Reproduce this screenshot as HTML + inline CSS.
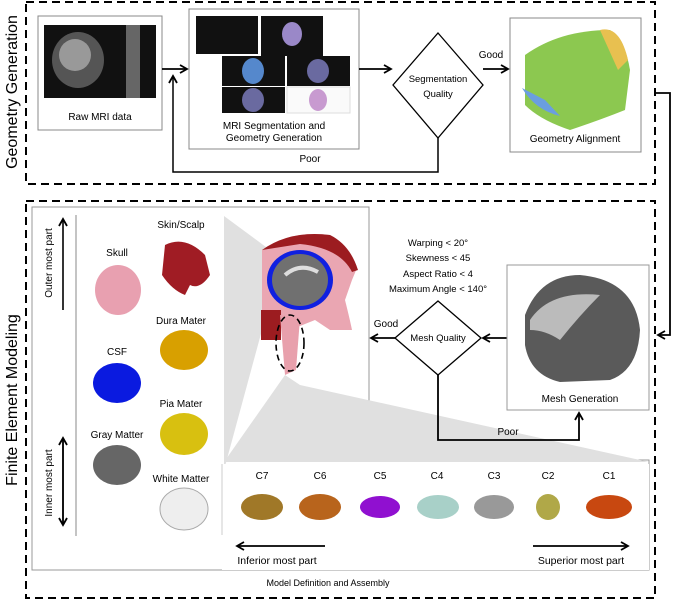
<!DOCTYPE html>
<html><head><style>
html,body{margin:0;padding:0;background:#fff;}
svg{display:block;font-family:"Liberation Sans",sans-serif;}
</style></head><body>
<svg width="677" height="602" viewBox="0 0 677 602" xmlns="http://www.w3.org/2000/svg">
<defs>
<marker id="ah" markerWidth="10" markerHeight="10" refX="8" refY="5" orient="auto" markerUnits="userSpaceOnUse">
<path d="M1,1 L8,5 L1,9" fill="none" stroke="#000" stroke-width="1.8"/></marker>
</defs>
<rect x="26" y="2" width="629" height="182" fill="none" stroke="#000" stroke-width="2" stroke-dasharray="8,5"/>
<rect x="26" y="201" width="629" height="397" fill="none" stroke="#000" stroke-width="2" stroke-dasharray="8,5"/>
<text transform="translate(17,92) rotate(-90)" font-size="16" text-anchor="middle">Geometry Generation</text>
<text transform="translate(17,400) rotate(-90)" font-size="16" text-anchor="middle">Finite Element Modeling</text>

<rect x="38" y="16" width="124" height="114" fill="#fff" stroke="#888"/>
<rect x="44" y="25" width="112" height="73" fill="#111"/>
<ellipse cx="78" cy="60" rx="26" ry="28" fill="#555"/>
<ellipse cx="75" cy="55" rx="16" ry="16" fill="#999"/>
<rect x="126" y="25" width="14" height="73" fill="#666"/>
<text x="100" y="120" font-size="10" text-anchor="middle">Raw MRI data</text>

<rect x="189" y="9" width="170" height="140" fill="#fff" stroke="#888"/>
<rect x="196" y="16" width="62" height="38" fill="#111"/>
<rect x="261" y="16" width="62" height="40" fill="#111"/>
<rect x="222" y="56" width="63" height="30" fill="#111"/>
<rect x="287" y="56" width="63" height="30" fill="#111"/>
<rect x="222" y="87" width="63" height="26" fill="#111"/>
<rect x="287" y="87" width="63" height="26" fill="#fafafa" stroke="#ddd"/>
<ellipse cx="253" cy="71" rx="11" ry="13" fill="#5588cc"/>
<ellipse cx="318" cy="71" rx="11" ry="12" fill="#6a6aa0"/>
<ellipse cx="253" cy="100" rx="11" ry="12" fill="#6a6aa0"/>
<ellipse cx="292" cy="34" rx="10" ry="12" fill="#9a88c8"/>
<ellipse cx="318" cy="100" rx="9" ry="11" fill="#c89ad0"/>
<text x="274" y="129" font-size="10" text-anchor="middle">MRI Segmentation and</text>
<text x="274" y="141" font-size="10" text-anchor="middle">Geometry Generation</text>

<polygon points="438,33 483,85 438,138 393,85" fill="#fff" stroke="#000" stroke-width="1.3"/>
<text x="438" y="82" font-size="9.5" text-anchor="middle">Segmentation</text>
<text x="438" y="97" font-size="9.5" text-anchor="middle">Quality</text>

<rect x="510" y="18" width="131" height="134" fill="#fff" stroke="#888"/>
<path d="M525,55 Q560,30 610,30 Q625,40 630,70 L625,110 Q600,120 570,130 Q540,120 525,105 Z" fill="#8cc850"/>
<path d="M600,30 Q620,25 628,60 L618,70 Z" fill="#e8c050"/>
<path d="M522,88 Q535,110 560,116 L545,100 Z" fill="#6a9ee0"/>
<text x="575" y="142" font-size="10" text-anchor="middle">Geometry Alignment</text>

<line x1="162" y1="69" x2="187" y2="69" stroke="#000" stroke-width="1.8" marker-end="url(#ah)"/>
<line x1="359" y1="69" x2="391" y2="69" stroke="#000" stroke-width="1.8" marker-end="url(#ah)"/>
<line x1="483" y1="69" x2="508" y2="69" stroke="#000" stroke-width="1.8" marker-end="url(#ah)"/>
<text x="491" y="58" font-size="10" text-anchor="middle">Good</text>
<polyline points="438,138 438,172 173,172 173,76" fill="none" stroke="#000" stroke-width="1.5" marker-end="url(#ah)"/>
<text x="310" y="162" font-size="10" text-anchor="middle">Poor</text>
<polyline points="655,93 670,93 670,335 658,335" fill="none" stroke="#000" stroke-width="1.8" marker-end="url(#ah)"/>

<polygon points="32,207 369,207 369,460 649,460 649,570 32,570" fill="#fff" stroke="#999"/>
<polygon points="224,216 270,250 262,330 224,470" fill="#e0e0e0"/>
<polygon points="285,375 300,385 649,462 224,462" fill="#e0e0e0"/>
<rect x="222" y="464" width="427" height="106" fill="#fff"/>
<line x1="222" y1="464" x2="222" y2="535" stroke="#ccc"/>
<line x1="76" y1="215" x2="76" y2="536" stroke="#888"/>
<line x1="63" y1="310" x2="63" y2="219" stroke="#000" stroke-width="1.6" marker-end="url(#ah)"/>
<line x1="63" y1="438" x2="63" y2="525" stroke="#000" stroke-width="1.6" marker-end="url(#ah)"/>
<line x1="63" y1="525" x2="63" y2="438" stroke="#000" stroke-width="1.6" marker-end="url(#ah)"/>
<text transform="translate(52,263) rotate(-90)" font-size="10" text-anchor="middle">Outer most part</text>
<text transform="translate(52,483) rotate(-90)" font-size="10" text-anchor="middle">Inner most part</text>

<text x="181" y="228" font-size="10" text-anchor="middle">Skin/Scalp</text>
<path d="M165,245 Q185,235 205,255 L210,275 Q200,290 190,285 L185,295 Q172,290 162,275 Z" fill="#a01c24"/>
<text x="117" y="256" font-size="10" text-anchor="middle">Skull</text>
<ellipse cx="118" cy="290" rx="23" ry="25" fill="#e8a0b0"/>
<text x="181" y="324" font-size="10" text-anchor="middle">Dura Mater</text>
<ellipse cx="184" cy="350" rx="24" ry="20" fill="#d8a000"/>
<text x="117" y="355" font-size="10" text-anchor="middle">CSF</text>
<ellipse cx="117" cy="383" rx="24" ry="20" fill="#0a1ae0"/>
<text x="181" y="407" font-size="10" text-anchor="middle">Pia Mater</text>
<ellipse cx="184" cy="434" rx="24" ry="21" fill="#d8c010"/>
<text x="117" y="438" font-size="10" text-anchor="middle">Gray Matter</text>
<ellipse cx="117" cy="465" rx="24" ry="20" fill="#666"/>
<text x="181" y="482" font-size="10" text-anchor="middle">White Matter</text>
<ellipse cx="184" cy="509" rx="24" ry="21" fill="#eee" stroke="#aaa"/>

<path d="M262,250 Q290,230 330,235 Q350,245 357,268 L352,280 L345,300 Q350,320 352,330 L330,330 L315,320 L290,330 L275,325 L262,310 Z" fill="#eaa6b2"/>
<path d="M262,250 Q290,230 330,235 Q350,245 358,270 L352,272 Q340,248 300,244 Z" fill="#9c1c20"/>
<ellipse cx="300" cy="280" rx="33" ry="30" fill="#1020e0"/>
<ellipse cx="300" cy="280" rx="28" ry="26" fill="#707070"/>
<path d="M285,275 Q300,262 318,272" fill="none" stroke="#ddd" stroke-width="4"/>
<rect x="261" y="310" width="20" height="30" fill="#9c1c20"/>
<path d="M280,315 L300,318 L296,370 L285,375 Z" fill="#e8a0ac"/>
<ellipse cx="290" cy="343" rx="14" ry="28" fill="none" stroke="#000" stroke-width="1.6" stroke-dasharray="6,4"/>

<text x="438" y="246" font-size="9.5" text-anchor="middle">Warping &lt; 20°</text>
<text x="438" y="261" font-size="9.5" text-anchor="middle">Skewness &lt; 45</text>
<text x="438" y="277" font-size="9.5" text-anchor="middle">Aspect Ratio &lt; 4</text>
<text x="438" y="292" font-size="9.5" text-anchor="middle">Maximum Angle &lt; 140°</text>
<polygon points="438,301 481,338 438,375 395,338" fill="#fff" stroke="#000" stroke-width="1.3"/>
<text x="438" y="341" font-size="9.5" text-anchor="middle">Mesh Quality</text>
<line x1="395" y1="338" x2="371" y2="338" stroke="#000" stroke-width="1.8" marker-end="url(#ah)"/>
<text x="386" y="327" font-size="10" text-anchor="middle">Good</text>
<line x1="507" y1="338" x2="483" y2="338" stroke="#000" stroke-width="1.8" marker-end="url(#ah)"/>
<polyline points="438,375 438,440 579,440 579,413" fill="none" stroke="#000" stroke-width="1.8" marker-end="url(#ah)"/>
<text x="508" y="435" font-size="10" text-anchor="middle">Poor</text>
<rect x="507" y="265" width="142" height="145" fill="#fff" stroke="#999"/>
<path d="M525,315 Q540,275 580,275 Q635,280 640,330 Q638,370 610,380 L560,382 Q530,375 525,345 Z" fill="#5a5a5a"/>
<path d="M530,320 Q550,290 600,295 Q580,315 560,340 Q545,330 530,330 Z" fill="#bbb"/>
<text x="580" y="402" font-size="10" text-anchor="middle">Mesh Generation</text>

<g font-size="10" text-anchor="middle">
<text x="262" y="479">C7</text><text x="320" y="479">C6</text><text x="380" y="479">C5</text>
<text x="437" y="479">C4</text><text x="494" y="479">C3</text><text x="548" y="479">C2</text><text x="609" y="479">C1</text>
</g>
<ellipse cx="262" cy="507" rx="21" ry="13" fill="#a07828"/>
<ellipse cx="320" cy="507" rx="21" ry="13" fill="#b8641c"/>
<ellipse cx="380" cy="507" rx="20" ry="11" fill="#9010d0"/>
<ellipse cx="438" cy="507" rx="21" ry="12" fill="#a8d0c8"/>
<ellipse cx="494" cy="507" rx="20" ry="12" fill="#999"/>
<ellipse cx="548" cy="507" rx="12" ry="13" fill="#b0a848"/>
<ellipse cx="609" cy="507" rx="23" ry="12" fill="#c84810"/>
<line x1="325" y1="546" x2="237" y2="546" stroke="#000" stroke-width="1.8" marker-end="url(#ah)"/>
<text x="277" y="564" font-size="10.5" text-anchor="middle">Inferior most part</text>
<line x1="533" y1="546" x2="628" y2="546" stroke="#000" stroke-width="1.8" marker-end="url(#ah)"/>
<text x="581" y="564" font-size="10.5" text-anchor="middle">Superior most part</text>
<text x="328" y="586" font-size="9" text-anchor="middle">Model Definition and Assembly</text>
</svg>
</body></html>
